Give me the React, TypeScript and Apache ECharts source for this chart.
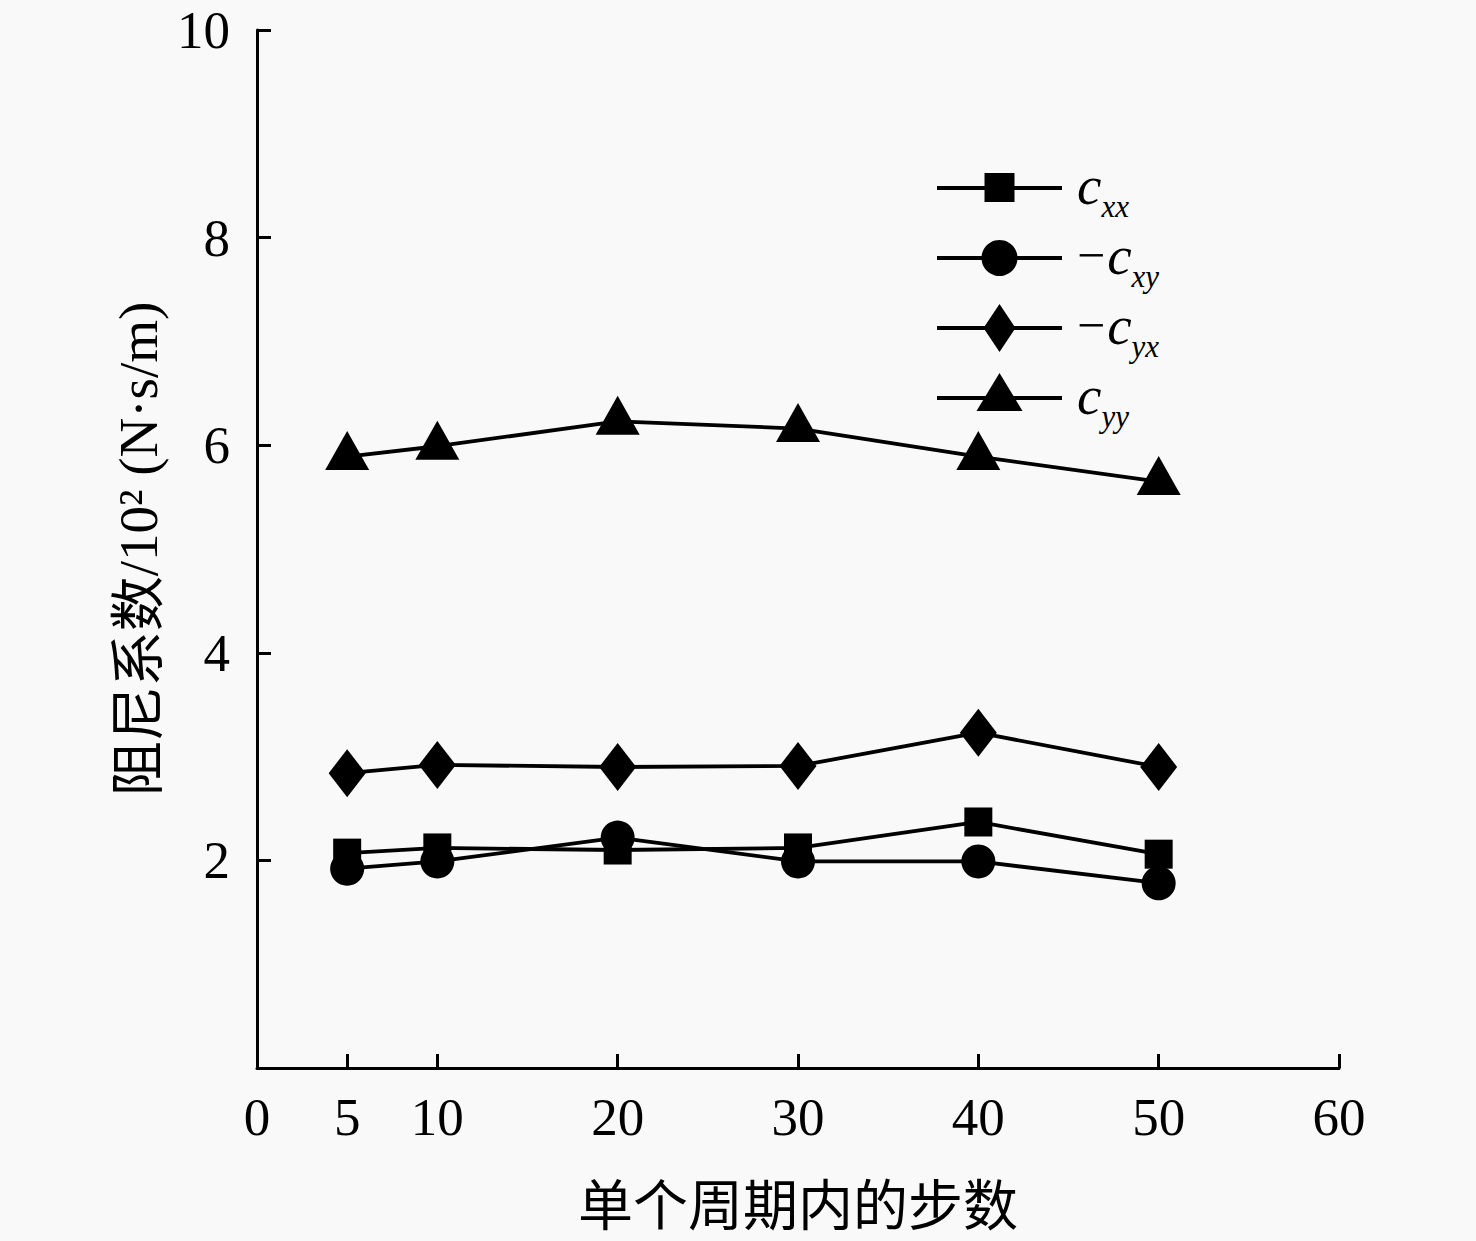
import React, { useEffect, useRef } from "react";
import * as echarts from "echarts";

const steps = [5, 10, 20, 30, 40, 50];
const cxx = [2.07, 2.12, 2.1, 2.12, 2.37, 2.06];
const negCxy = [1.92, 1.99, 2.22, 1.99, 1.99, 1.78];
const negCyx = [2.84, 2.92, 2.9, 2.91, 3.23, 2.9];
const cyy = [5.89, 5.99, 6.23, 6.16, 5.89, 5.65];

const xTickLabels = [0, 5, 10, 20, 30, 40, 50, 60];
const xTickMarks = [5, 10, 20, 30, 40, 50, 60];
const yTickLabels = [2, 4, 6, 8, 10];

const seriesNames = ["cxx", "-cxy", "-cyx", "cyy"];
const seriesSymbols = ["rect", "circle", "diamond", "triangle"];
const seriesSizes: (number | number[])[] = [[28, 29], 34, [37, 48], [44, 39]];
const seriesOffsets = [[0, 0], [0, 0], [0, 0], [0, -6]];
const legendLabels = ["{c|c}{s|xx}", "{m|\u2212}{c|c}{s|xy}", "{m|\u2212}{c|c}{s|yx}", "{c|c}{s|yy}"];

const SERIF = "'Liberation Serif', 'Times New Roman', 'Noto Sans CJK SC', serif";
const BLACK = "#000000";

export default function App() {
  const ref = useRef<HTMLDivElement>(null);
  useEffect(() => {
    document.body.style.margin = "0";
    const chart = echarts.init(ref.current!, undefined, { renderer: "svg" });
    const allData = [cxx, negCxy, negCyx, cyy];

    const legendGraphics: any[] = [];
    const lx0 = 937;
    const lx1 = 1062;
    const lcx = (lx0 + lx1) / 2;
    for (let i = 0; i < seriesNames.length; i++) {
      const y = 188 + 70 * i;
      legendGraphics.push({
        type: "line",
        shape: { x1: lx0, y1: y, x2: lx1, y2: y },
        style: { stroke: BLACK, lineWidth: 3.8 },
      });
      const sym = seriesSymbols[i];
      if (sym === "rect") {
        legendGraphics.push({ type: "rect", shape: { x: lcx - 15, y: y - 15, width: 30, height: 29 }, style: { fill: BLACK } });
      } else if (sym === "circle") {
        legendGraphics.push({ type: "circle", shape: { cx: lcx, cy: y, r: 18 }, style: { fill: BLACK } });
      } else if (sym === "diamond") {
        legendGraphics.push({
          type: "polygon",
          shape: { points: [[lcx, y - 24], [lcx + 16, y], [lcx, y + 24], [lcx - 16, y]] },
          style: { fill: BLACK },
        });
      } else {
        legendGraphics.push({
          type: "polygon",
          shape: { points: [[lcx, y - 25], [lcx + 23, y + 13], [lcx - 23, y + 13]] },
          style: { fill: BLACK },
        });
      }
      legendGraphics.push({
        type: "text",
        style: {
          x: 1077,
          y: y - 3,
          text: legendLabels[i],
          verticalAlign: "middle",
          align: "left",
          fill: BLACK,
          rich: {
            c: { fontSize: 55, fontStyle: "italic", fontFamily: SERIF, lineHeight: 70, verticalAlign: "middle", fill: BLACK },
            s: { fontSize: 31, fontStyle: "italic", fontFamily: SERIF, lineHeight: 30, padding: [42, 0, 0, 0], verticalAlign: "middle", fill: BLACK },
            m: { fontSize: 50, fontFamily: SERIF, lineHeight: 70, verticalAlign: "middle", fill: BLACK, padding: [0, 2, 0, 0] },
          },
        },
      });
    }

    chart.setOption({
      animation: false,
      backgroundColor: "#f9f9f9",
      textStyle: { fontFamily: SERIF, color: BLACK },
      grid: { left: 257, right: 137, top: 30, bottom: 173, containLabel: false, outerBoundsMode: "none" },
      xAxis: {
        type: "value",
        min: 0,
        max: 60,
        name: "单个周期内的步数",
        nameLocation: "middle",
        nameGap: 111,
        nameTextStyle: { fontSize: 55, color: BLACK, fontFamily: SERIF },
        axisLine: { show: true, lineStyle: { color: BLACK, width: 3 } },
        axisTick: { show: true, inside: true, length: 14, customValues: xTickMarks, lineStyle: { color: BLACK, width: 3 } },
        axisLabel: { customValues: xTickLabels, fontSize: 53, color: BLACK, margin: 22, fontFamily: SERIF },
        splitLine: { show: false },
      },
      yAxis: {
        type: "value",
        min: 0,
        max: 10,
        interval: 2,
        name: "阻尼系数/10² (N·s/m)",
        nameLocation: "middle",
        nameRotate: 90,
        nameGap: 80,
        nameTextStyle: { fontSize: 55, color: BLACK, fontFamily: SERIF },
        axisLine: { show: true, lineStyle: { color: BLACK, width: 3 } },
        axisTick: { show: true, inside: true, length: 14, customValues: yTickLabels, lineStyle: { color: BLACK, width: 3 } },
        axisLabel: { customValues: yTickLabels, fontSize: 53, color: BLACK, margin: 27, fontFamily: SERIF },
        splitLine: { show: false },
      },
      graphic: legendGraphics,
      series: seriesNames.map((name, i) => ({
        name,
        type: "line",
        data: steps.map((s, j) => [s, allData[i][j]]),
        symbol: seriesSymbols[i],
        symbolSize: seriesSizes[i],
        symbolOffset: seriesOffsets[i],
        showSymbol: true,
        lineStyle: { color: BLACK, width: 3.8 },
        itemStyle: { color: BLACK },
        z: 2 + i,
      })),
    });
    return () => chart.dispose();
  }, []);
  return <div ref={ref} style={{ width: 1476, height: 1241 }} />;
}
